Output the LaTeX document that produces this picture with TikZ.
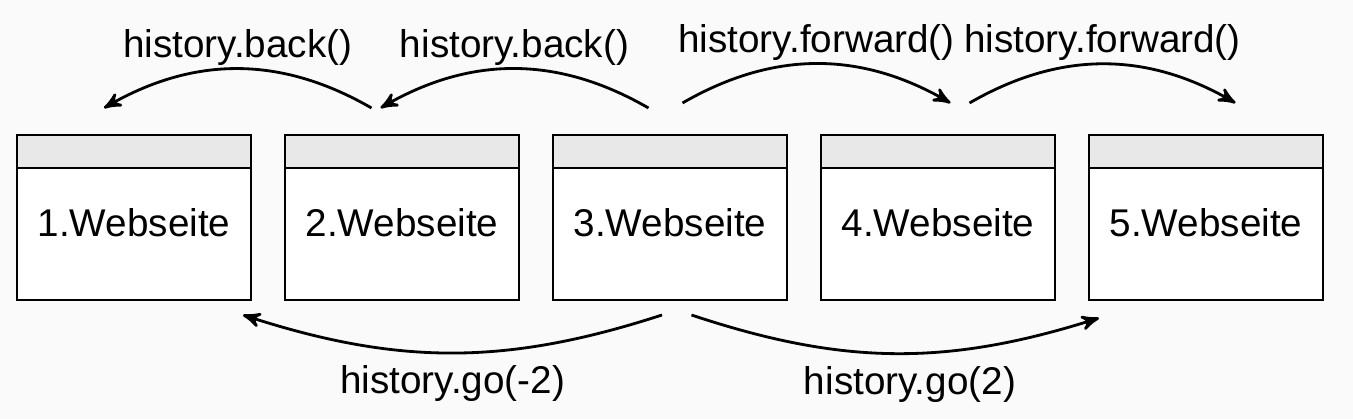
\documentclass[tikz,border=0pt]{standalone}
\usepackage{fontspec}
\setmainfont{Liberation Sans}
\usepackage{tikz}
\usetikzlibrary{arrows,positioning}

\begin{document}
\begin{tikzpicture}[->,>=stealth',node distance=3.4mm,thick,font=\fontsize{11}{13}\selectfont,
  page node/.style={rectangle,draw,fill=white,minimum width=2.34cm,minimum height=1.65cm,outer sep=0pt,text height=3.9mm,text depth=0pt},
  bar/.style={-,draw,fill=black!9},
  call/.style={inner sep=0.5pt}]
    \path[use as bounding box,fill=black!2] (0,0) rectangle (13.53,-4.19);
    \node[page node] (1) at (1.34,-2.175) {1.Webseite};
    \node[page node] (2) [right=of 1] {2.Webseite};
    \node[page node] (3) [right=of 2] {3.Webseite};
    \node[page node] (4) [right=of 3] {4.Webseite};
    \node[page node] (5) [right=of 4] {5.Webseite};
    \draw[bar] (1.north west) rectangle ([yshift=-3.3mm]1.north east);
    \draw[bar] (2.north west) rectangle ([yshift=-3.3mm]2.north east);
    \draw[bar] (3.north west) rectangle ([yshift=-3.3mm]3.north east);
    \draw[bar] (4.north west) rectangle ([yshift=-3.3mm]4.north east);
    \draw[bar] (5.north west) rectangle ([yshift=-3.3mm]5.north east);
    % back / forward
    \draw ([xshift=-3.05mm,yshift=2.7mm]2.north) to[bend right=30] node[call,above] {history.back()} ([xshift=-3mm,yshift=2.7mm]1.north);
    \draw ([xshift=-2.15mm,yshift=2.7mm]3.north) to[bend right=30] node[call,above] {history.back()} ([xshift=-2.15mm,yshift=2.7mm]2.north);
    \draw ([xshift=1.25mm,yshift=3.2mm]3.north) to[bend left=30] node[call,above] {history.forward()} ([xshift=1.25mm,yshift=3.2mm]4.north);
    \draw ([xshift=3.15mm,yshift=3.2mm]4.north) to[bend left=30] node[call,above] {history.forward()} ([xshift=2.95mm,yshift=3.2mm]5.north);
    % go
    \draw ([xshift=-0.8mm,yshift=-1.5mm]3.south) to[bend left=18] node[below] {history.go(-2)} ([xshift=-0.8mm,yshift=-1.5mm]1.south east);
    \draw ([xshift=2.15mm,yshift=-1.5mm]3.south) to[bend right=18] node[below,xshift=1.5mm] {history.go(2)} ([xshift=1mm,yshift=-1.8mm]5.south west);
\end{tikzpicture}
\end{document}
